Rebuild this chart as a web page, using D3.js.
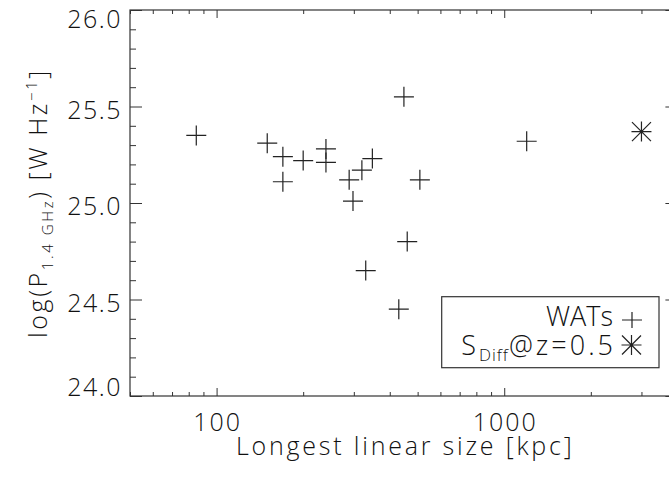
<!DOCTYPE html>
<html>
<head>
<meta charset="utf-8">
<script src="https://cdn.jsdelivr.net/npm/d3@7"></script>
<style>
  body { margin: 0; background: #fff; }
  text { font-family: "Open Sans", "Liberation Sans", Arial, sans-serif; font-weight: 300; fill: #111; }
</style>
</head>
<body>
<div id="chart"></div>
<script>
// Data
var watSize  = [85, 150, 170, 170, 200, 240, 240, 289, 320, 348, 298, 509, 448, 460, 330, 430, 1197];
var watPower = [25.35, 25.31, 25.24, 25.11, 25.22, 25.28, 25.21, 25.12, 25.17, 25.23, 25.01, 25.12, 25.55, 24.80, 24.65, 24.45, 25.32];
var sdiffSize  = [3000];
var sdiffPower = [25.37];

var xMajor = [100, 1000];
var xMinor = [50, 60, 70, 80, 90, 200, 300, 400, 500, 600, 700, 800, 900, 2000, 3000];
var yMajor = [24.0, 24.5, 25.0, 25.5, 26.0];
var yMinor = d3.range(241, 260).map(d => d / 10).filter(d => Math.round(d * 10) % 5 !== 0);

var svgWidth = 669;
var svgHeight = 481;

// plot frame (right edge sits just off the canvas)
var plotLeft = 130, plotTop = 10, plotRight = 677.4, plotBottom = 396;

var svg = d3.select("#chart").append("svg")
  .attr("width", svgWidth)
  .attr("height", svgHeight);

var x = d3.scaleLog().domain([50, 4000]).range([plotLeft, plotRight]);
var y = d3.scaleLinear().domain([24, 26]).range([plotBottom, plotTop]);

var axisColor = "#333";

function styleAxis(g) {
  g.select(".domain").remove();
  g.selectAll("line").attr("stroke", axisColor).attr("stroke-width", 1);
  g.selectAll("text").remove();
}

// x ticks, bottom and top, pointing inward
svg.append("g").attr("transform", `translate(0,${plotBottom})`)
  .call(d3.axisBottom(x).tickValues(xMajor).tickSize(-8)).call(styleAxis);
svg.append("g").attr("transform", `translate(0,${plotBottom})`)
  .call(d3.axisBottom(x).tickValues(xMinor).tickSize(-4)).call(styleAxis);
svg.append("g").attr("transform", `translate(0,${plotTop})`)
  .call(d3.axisTop(x).tickValues(xMajor).tickSize(-8)).call(styleAxis);
svg.append("g").attr("transform", `translate(0,${plotTop})`)
  .call(d3.axisTop(x).tickValues(xMinor).tickSize(-4)).call(styleAxis);

// y ticks, left and right
svg.append("g").attr("transform", `translate(${plotLeft},0)`)
  .call(d3.axisLeft(y).tickValues(yMajor).tickSize(-12)).call(styleAxis);
svg.append("g").attr("transform", `translate(${plotLeft},0)`)
  .call(d3.axisLeft(y).tickValues(yMinor).tickSize(-6)).call(styleAxis);
svg.append("g").attr("transform", `translate(${plotRight},0)`)
  .call(d3.axisRight(y).tickValues(yMajor).tickSize(-12)).call(styleAxis);
svg.append("g").attr("transform", `translate(${plotRight},0)`)
  .call(d3.axisRight(y).tickValues(yMinor).tickSize(-6)).call(styleAxis);

// frame
svg.append("rect")
  .attr("x", plotLeft).attr("y", plotTop)
  .attr("width", plotRight - plotLeft).attr("height", plotBottom - plotTop)
  .attr("fill", "none").attr("stroke", axisColor).attr("stroke-width", 1.2);

// tick labels
svg.selectAll(".xlab").data(xMajor).enter().append("text")
  .attr("class", "xlab")
  .attr("x", d => x(d) + 1)
  .attr("y", 431)
  .attr("text-anchor", "middle")
  .style("font-size", "25px")
  .style("letter-spacing", "2px")
  .text(d => d);

svg.selectAll(".ylab").data(yMajor).enter().append("text")
  .attr("class", "ylab")
  .attr("x", 122)
  .attr("y", d => Math.max(plotTop + 9, Math.min(plotBottom - 9, y(d) + 3)) + 9)
  .attr("text-anchor", "end")
  .style("font-size", "25px")
  .style("letter-spacing", "1.5px")
  .text(d => d.toFixed(1));

// axis titles
svg.append("text")
  .attr("x", (plotLeft + plotRight) / 2 + 1.5)
  .attr("y", 455)
  .attr("text-anchor", "middle")
  .style("font-size", "25px")
  .style("letter-spacing", "2.8px")
  .text("Longest linear size [kpc]");

var yTitle = svg.append("text")
  .attr("transform", `translate(47,${(plotTop + plotBottom) / 2}) rotate(-90)`)
  .attr("text-anchor", "middle")
  .style("font-size", "25px")
  .style("letter-spacing", "2.6px");
yTitle.append("tspan").text("log(P");
yTitle.append("tspan").attr("baseline-shift", "-6").style("font-size", "15px").text("1.4 GHz");
yTitle.append("tspan").text(") [W Hz");
yTitle.append("tspan").attr("baseline-shift", "10").style("font-size", "15px").text("\u22121");
yTitle.append("tspan").text("]");

// markers
var plusPath = "M-10,0H10M0,-10V10";
var starPath = "M-10,0H10M0,-10V10M-9.5,-9.5L9.5,9.5M-9.5,9.5L9.5,-9.5";

var wats = watSize.map((d, i) => ({ size: d, power: watPower[i] }));
var sdiff = sdiffSize.map((d, i) => ({ size: d, power: sdiffPower[i] }));

svg.selectAll(".wat").data(wats).enter().append("path")
  .attr("class", "wat")
  .attr("transform", d => `translate(${x(d.size)},${y(d.power)})`)
  .attr("d", plusPath)
  .attr("fill", "none").attr("stroke", "#222").attr("stroke-width", 1.2);

svg.selectAll(".sdiff").data(sdiff).enter().append("path")
  .attr("class", "sdiff")
  .attr("transform", d => `translate(${x(d.size)},${y(d.power)})`)
  .attr("d", starPath)
  .attr("fill", "none").attr("stroke", "#222").attr("stroke-width", 1.2);

// legend
var legend = svg.append("g");
legend.append("rect")
  .attr("x", 441.7).attr("y", 296.7)
  .attr("width", 217.3).attr("height", 71)
  .attr("fill", "#fff").attr("stroke", axisColor).attr("stroke-width", 1.2);
legend.append("text")
  .attr("x", 613).attr("y", 326)
  .attr("text-anchor", "end")
  .style("font-size", "27px")
  .text("WATs");
var l2 = legend.append("text")
  .attr("x", 616).attr("y", 355)
  .attr("text-anchor", "end")
  .style("font-size", "27px")
  .style("letter-spacing", "3px");
l2.append("tspan").text("S");
l2.append("tspan").attr("baseline-shift", "-6").style("font-size", "17px").style("letter-spacing", "1px").text("Diff");
l2.append("tspan").text("@z=0.5");
legend.append("path")
  .attr("transform", "translate(632,320) scale(1,0.8)")
  .attr("d", plusPath)
  .attr("fill", "none").attr("stroke", "#222").attr("stroke-width", 1.2);
legend.append("path")
  .attr("transform", "translate(631.5,345)")
  .attr("d", starPath)
  .attr("fill", "none").attr("stroke", "#222").attr("stroke-width", 1.2);
</script>
</body>
</html>
